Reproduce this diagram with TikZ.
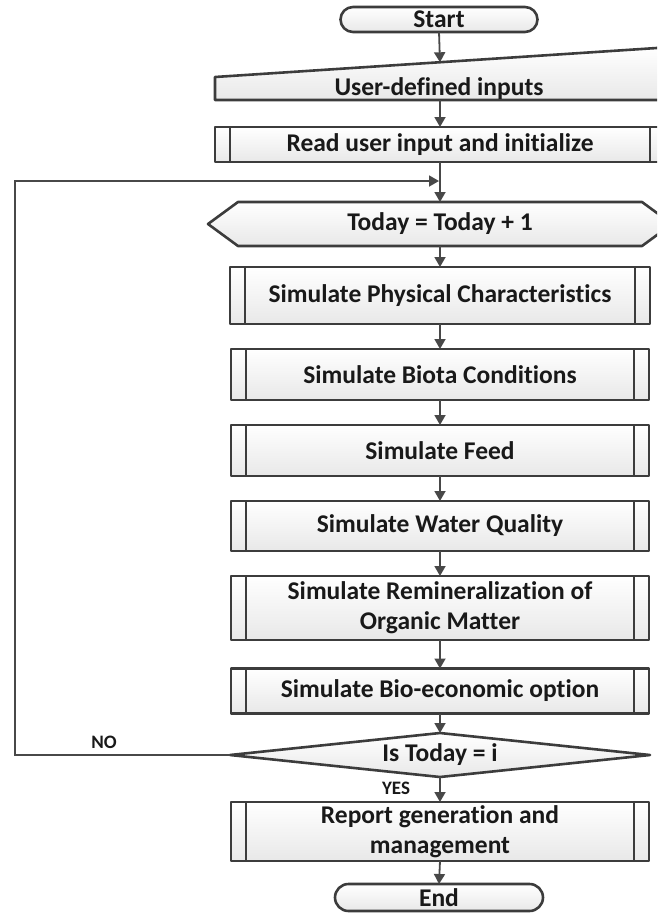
\documentclass[tikz,border=0pt]{standalone}
\usepackage{fontspec}
\setmainfont{Carlito}[Ligatures=NoCommon]
\usetikzlibrary{arrows.meta,calc,shapes.misc}
\definecolor{edge}{HTML}{3c3c3c}
\definecolor{connc}{HTML}{484848}
\begin{document}
\begin{tikzpicture}[x=1pt,y=-1pt,
  every node/.style={font=\bfseries\fontsize{25.5}{30}\selectfont, text=black!90},
  shapefill/.style={draw=edge, line width=2.6pt, top color=white, bottom color=black!9, line join=round},
  procbox/.style={shapefill, rectangle, minimum width=418pt, align=center, inner sep=0pt, outer sep=0pt},
  term/.style={shapefill, rounded rectangle, inner sep=0pt, outer sep=0pt},
  txt/.style={draw=none, inner sep=0pt, align=center},
  bar/.style={draw=edge, line width=2.2pt},
  conn/.style={draw=connc, line width=1.8pt, -{Triangle[length=10pt,width=11pt]}},
  small/.style={font=\bfseries\fontsize{19}{22}\selectfont}
]
\useasboundingbox (0,0) rectangle (657,913);
\clip (0,0) rectangle (657,913);

% Start
\node[term, minimum width=197pt, minimum height=25pt] (start) at (439,19.5) {Start};

% User-defined inputs (manual input)
\path[shapefill] (215,100) -- (215,77) -- (672,47) -- (672,100) -- cycle;
\node[txt] (udi) at (439,89) {User-defined inputs};
\coordinate (udtop) at (440,62.3);
\coordinate (udbot) at (440,100);

% Read user input
\node[procbox, minimum width=450pt, minimum height=35pt] (read) at (440,144.5) {Read user input and initialize};

% Today = Today + 1 (preparation)
\path[shapefill] (208,224) -- (238,202) -- (642,202) -- (672,224) -- (642,246) -- (238,246) -- cycle;
\node[txt] (today) at (440,224) {Today = Today + 1};
\coordinate (hexN) at (440,202);
\coordinate (hexS) at (440,246);
\coordinate (loopin) at (439,181);

% Process boxes
\node[procbox, minimum width=420pt, minimum height=57pt] (phys) at (440,295.5) {Simulate Physical Characteristics};
\node[procbox, minimum height=51pt] (biota) at (440,374.5) {Simulate Biota Conditions};
\node[procbox, minimum height=51pt] (feed) at (440,450.5) {Simulate Feed};
\node[procbox, minimum height=50pt] (water) at (440,526) {Simulate Water Quality};
\node[procbox, minimum height=64pt] (remin) at (440,608) {Simulate Remineralization of\\Organic Matter};
\node[procbox, minimum height=45pt] (bio) at (440,691) {Simulate Bio-economic option};

% Decision
\path[shapefill] (230,755) -- (440,733) -- (650,755) -- (440,777) -- cycle;
\node[txt] (dec) at (440,755) {Is Today = i};
\coordinate (decN) at (440,733);
\coordinate (decS) at (440,777);
\coordinate (decW) at (230,755);

\node[procbox, minimum height=59pt] (report) at (440,831.5) {Report generation and\\management};
\node[term, minimum width=208pt, minimum height=27pt] (end) at (439,897.5) {End};

% inner bars of predefined-process boxes
\foreach \n in {read,phys,biota,feed,water,remin,bio,report}{
  \draw[bar] ([xshift=15pt]\n.north west) -- ([xshift=15pt]\n.south west);
  \draw[bar] ([xshift=-15pt]\n.north east) -- ([xshift=-15pt]\n.south east);
}

% Labels
\node[txt, small] (no) at (104,742) {NO};
\node[txt, small] (yes) at (396,788) {YES};

% Connectors
\draw[conn] (start.south) -- (udtop);
\draw[conn] (udbot) -- (read.north);
\draw[conn] (read.south) -- (hexN);
\draw[conn] (hexS) -- (phys.north);
\draw[conn] (phys.south) -- (biota.north);
\draw[conn] (biota.south) -- (feed.north);
\draw[conn] (feed.south) -- (water.north);
\draw[conn] (water.south) -- (remin.north);
\draw[conn] (remin.south) -- (bio.north);
\draw[conn] (bio.south) -- (decN);
\draw[conn] (decS) -- (report.north);
\draw[conn] (report.south) -- (end.north);
\draw[conn] (decW) -- ++(-215,0) |- (loopin);
\end{tikzpicture}
\end{document}
